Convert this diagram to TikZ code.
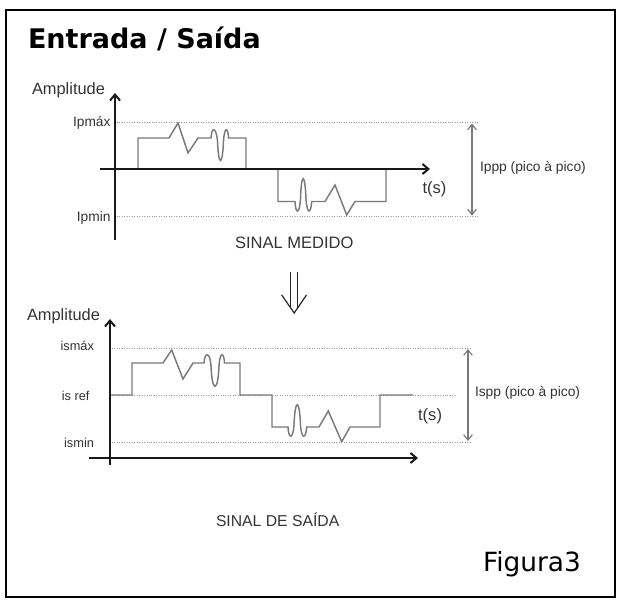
\documentclass[tikz,border=0pt]{standalone}
\usepackage{fontspec}
\setmainfont{Liberation Sans}
\newfontfamily\verd{DejaVu Sans}
\usetikzlibrary{arrows.meta}
\definecolor{sig}{HTML}{7A7A7A}
\definecolor{dotc}{HTML}{9A9A9A}
\definecolor{lab}{HTML}{333333}
\begin{document}
\begin{tikzpicture}[x=0.75pt,y=-0.75pt,
 lbl/.style={inner sep=0pt,outer sep=0pt,text=lab},
 axisline/.style={line width=1.5pt,draw=black!90,-{Straight Barb[length=4.5pt,width=7.5pt]}},
 signal/.style={line width=1.1pt,draw=sig,line join=miter},
 dotline/.style={draw=dotc,line width=0.6pt,dash pattern=on 0.75pt off 1.1pt},
 ptp/.style={draw=sig,line width=0.9pt,{Straight Barb[length=4pt,width=6.5pt]}-{Straight Barb[length=4pt,width=6.5pt]}},
 bigarrow/.style={draw=black!85,line width=0.9pt}
]
\useasboundingbox (0,0) rectangle (622,604);
\draw[line width=1.5pt] (6,10) rectangle (615,597);

% title
\node[lbl,text=black,anchor=base west,font=\verd\bfseries\fontsize{20.25}{24}\selectfont] (title) at (28,48) {Entrada / Saída};

% ---------------- top chart ----------------
\coordinate (tyb) at (115,240);
\coordinate (tyt) at (115,93);
\coordinate (txl) at (100,169);
\coordinate (txr) at (430,169);
\node[lbl,anchor=base west,font=\fontsize{12.3}{14}\selectfont] (tamp) at (32,94) {Amplitude};
\node[lbl,anchor=base east,font=\fontsize{10.3}{12}\selectfont] (tmax) at (110.5,126.5) {Ipmáx};
\node[lbl,anchor=base east,font=\fontsize{10.3}{12}\selectfont] (tmin) at (110.5,221.5) {Ipmin};
\node[lbl,anchor=base east,font=\fontsize{12.4}{14}\selectfont] (tts) at (446.5,193) {t(s)};
\node[lbl,anchor=base west,font=\fontsize{10.35}{12}\selectfont] (tptp) at (480,171) {Ippp (pico à pico)};
\node[lbl,anchor=base west,font=\fontsize{12.4}{14}\selectfont] (tname) at (235,248) {SINAL MEDIDO};

\coordinate (tmaxa) at (117,122.5);
\coordinate (tmaxb) at (478,122.5);
\coordinate (tmina) at (117,216.5);
\coordinate (tminb) at (478,216.5);
\draw[dotline] (tmaxa) -- (tmaxb);
\draw[dotline] (tmina) -- (tminb);
\coordinate (tpa) at (472,123.5);
\coordinate (tpb) at (472,215.5);
\draw[ptp] (tpa) -- (tpb);

\draw[signal] (138,169) -- (138,138) -- (169,138) -- (178,123) -- (188,153) -- (198,138) -- (211,138)
  .. controls (211.5,127) and (216,126) .. (217.5,141)
  .. controls (218.5,167) and (222.5,167) .. (223.5,141)
  .. controls (224.5,126) and (228,127) .. (228.5,138)
  -- (246,138) -- (246,169);
\draw[signal] (278,169) -- (278,201.5) -- (295,201.5)
  .. controls (295.5,214) and (299.5,215) .. (300.5,199)
  .. controls (301.3,172) and (305,172) .. (306,199)
  .. controls (307,215) and (311,214) .. (311.7,201.5)
  -- (325,201.5) -- (335,185) -- (346.7,215) -- (355,201.5) -- (386,201.5) -- (386,169);

\draw[axisline] (tyb) -- (tyt);
\draw[axisline] (txl) -- (txr);

% down double arrow
\draw[bigarrow] (290.7,272) -- (290.7,308);
\draw[bigarrow] (297.7,272) -- (297.7,308);
\draw[bigarrow] (281.7,295) -- (294.2,313) -- (306.5,295);

% ---------------- bottom chart ----------------
\coordinate (byb) at (110,465);
\coordinate (byt) at (110,319);
\coordinate (bxl) at (89,458);
\coordinate (bxr) at (418,458);
\node[lbl,anchor=base west,font=\fontsize{12.3}{14}\selectfont] (bamp) at (27,320.5) {Amplitude};
\node[lbl,anchor=base east,font=\fontsize{9.6}{11}\selectfont] (bmax) at (94,350.5) {ismáx};
\node[lbl,anchor=base east,font=\fontsize{9.6}{11}\selectfont] (bref) at (89.5,400.5) {is ref};
\node[lbl,anchor=base east,font=\fontsize{9.6}{11}\selectfont] (bmin) at (94,447) {ismin};
\node[lbl,anchor=base east,font=\fontsize{12.4}{14}\selectfont] (bts) at (442,420) {t(s)};
\node[lbl,anchor=base west,font=\fontsize{10.35}{12}\selectfont] (bptp) at (475,396) {Ispp (pico à pico)};
\node[lbl,anchor=base west,font=\fontsize{11.8}{14}\selectfont] (bname) at (216,526) {SINAL DE SAÍDA};

\coordinate (bmaxa) at (112,348);
\coordinate (bmaxb) at (470,348);
\coordinate (brefa) at (112,395.5);
\coordinate (brefb) at (455,395.5);
\coordinate (bmina) at (112,442);
\coordinate (bminb) at (470,442);
\draw[dotline] (bmaxa) -- (bmaxb);
\draw[dotline] (brefa) -- (brefb);
\draw[dotline] (bmina) -- (bminb);
\coordinate (bpa) at (468,349);
\coordinate (bpb) at (468,441);
\draw[ptp] (bpa) -- (bpb);

\draw[signal] (110,395) -- (132,395) -- (132,363) -- (163,363) -- (171.7,350) -- (183,379) -- (193,363) -- (204,363)
  .. controls (204.5,352) and (210,351) .. (211,366)
  .. controls (212,393) and (218,393) .. (219,366)
  .. controls (220,351) and (224,352) .. (224.5,363)
  -- (240,363) -- (240,395) -- (272,395) -- (272,427) -- (288,427)
  .. controls (288.5,439) and (293,440) .. (294,425)
  .. controls (295,398) and (299.5,398) .. (300.5,425)
  .. controls (301.5,440) and (306,439) .. (306.7,427)
  -- (319,427) -- (328.3,411) -- (341.7,441.7) -- (350,427) -- (380,427) -- (380,395) -- (413,395);

\draw[axisline] (byb) -- (byt);
\draw[axisline] (bxl) -- (bxr);

% figure label
\node[lbl,text=black,anchor=base west,font=\verd\fontsize{19.8}{24}\selectfont] (fig) at (483,571) {Figura3};
\end{tikzpicture}
\end{document}
